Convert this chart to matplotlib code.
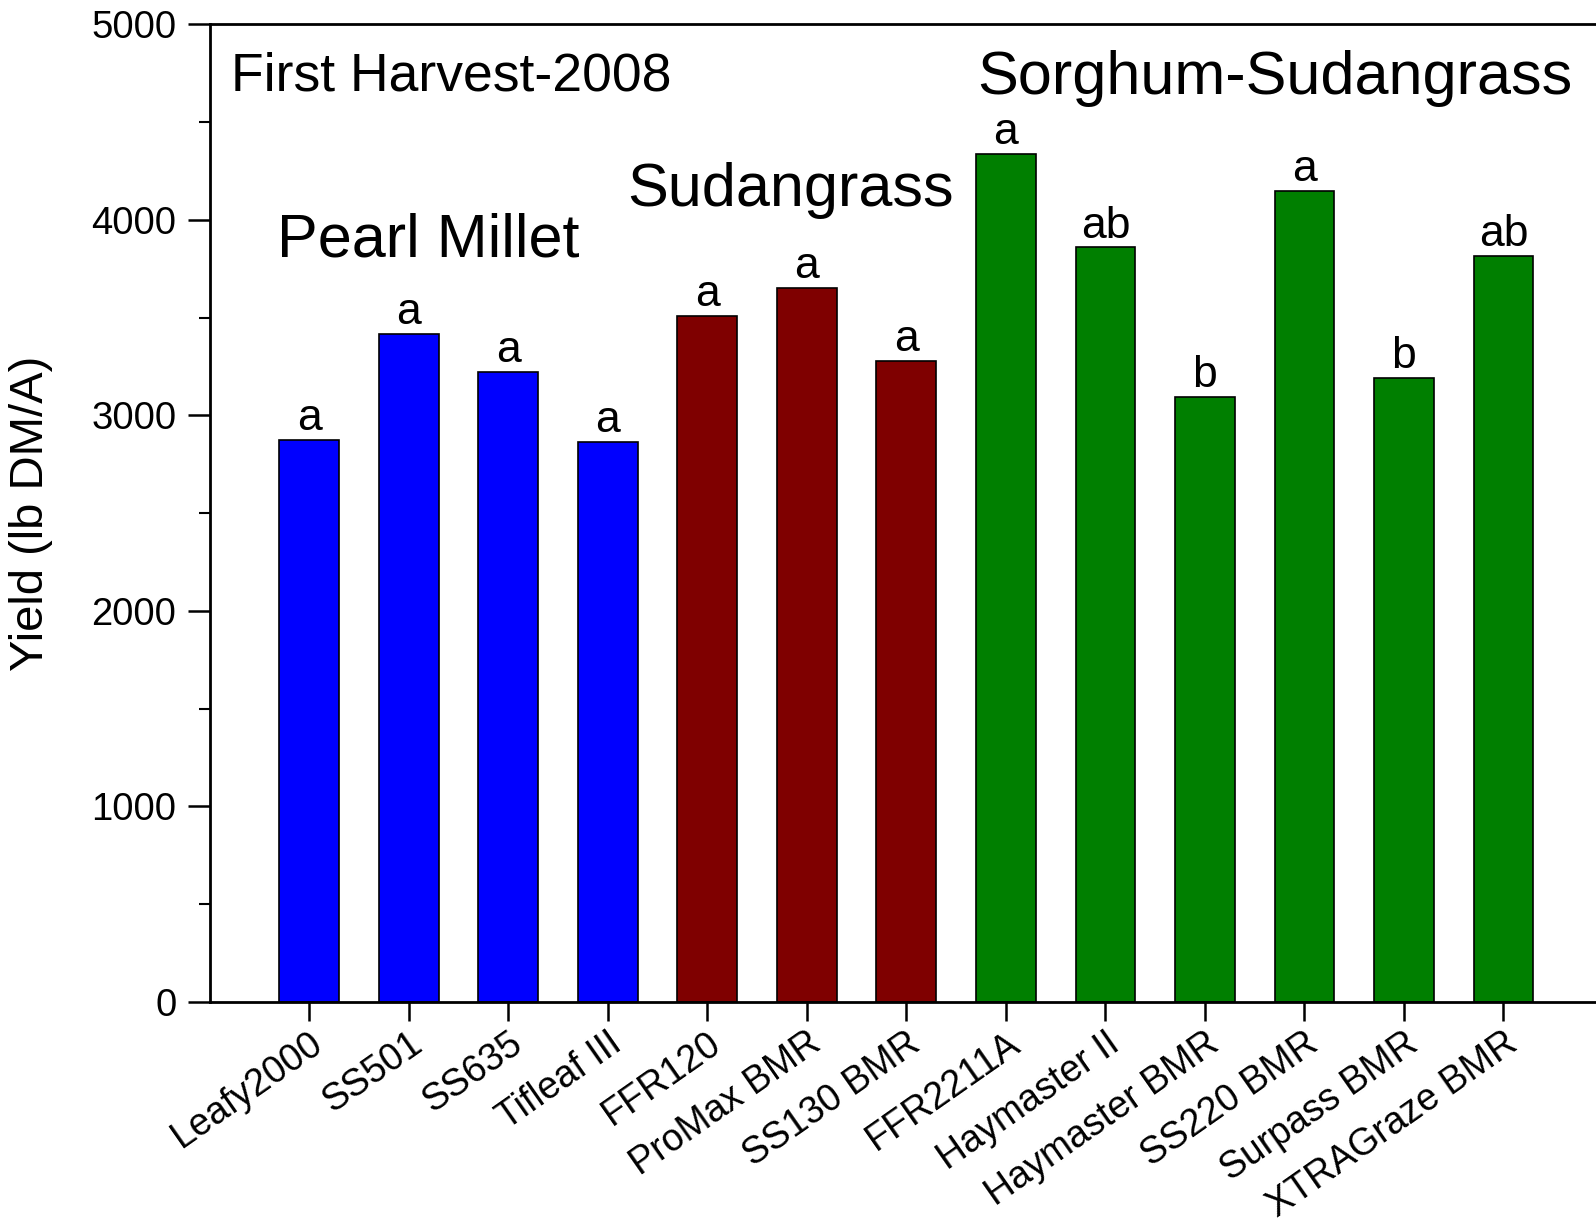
import matplotlib
matplotlib.use('Agg')
import matplotlib.pyplot as plt
import numpy as np
from matplotlib.ticker import MultipleLocator

plt.rcParams['font.family'] = ['Liberation Sans', 'DejaVu Sans']

cultivars = ['Leafy2000', 'SS501', 'SS635', 'Tifleaf III', 'FFR120', 'ProMax BMR',
             'SS130 BMR', 'FFR2211A', 'Haymaster II', 'Haymaster BMR', 'SS220 BMR',
             'Surpass BMR', 'XTRAGraze BMR']
yields = [2875, 3417, 3224, 2865, 3510, 3651, 3276, 4339, 3859, 3094, 4146, 3193, 3813]
letters = ['a', 'a', 'a', 'a', 'a', 'a', 'a', 'a', 'ab', 'b', 'a', 'b', 'ab']
groups = ['pm'] * 4 + ['sg'] * 3 + ['ss'] * 6
group_colors = {'pm': '#0000ff', 'sg': '#7f0000', 'ss': '#007f00'}

fig = plt.figure(figsize=(15.96, 12.24), dpi=100)
ax = fig.add_axes([0.1314, 0.1816, 0.8686, 0.7984])

x = np.arange(1, len(cultivars) + 1)
ax.bar(x, yields, width=0.6, color=[group_colors[g] for g in groups],
       edgecolor='black', linewidth=1.2, zorder=2)

# significance letters above each bar
for xi, yi, lt in zip(x, yields, letters):
    ax.text(xi, yi + 5, lt, ha='center', va='bottom', fontsize=32)

ax.text(0.21, 4735, 'First Harvest-2008', fontsize=38.5, va='center', ha='left')
ax.text(0.675, 3890, 'Pearl Millet', fontsize=44, va='center', ha='left')
ax.text(4.2, 4150, 'Sudangrass', fontsize=44, va='center', ha='left')
ax.text(7.71, 4725, 'Sorghum-Sudangrass', fontsize=44, va='center', ha='left')

ax.set_xlim(0, 13.93)
ax.set_ylim(0, 5000)
ax.set_xticks(x)
ax.set_xticklabels(cultivars, rotation=35, ha='right', rotation_mode='anchor',
                   fontsize=27)
ax.yaxis.set_major_locator(MultipleLocator(1000))
ax.yaxis.set_minor_locator(MultipleLocator(500))
ax.tick_params(axis='y', which='major', labelsize=27.5, length=16, width=1.8,
               direction='out', pad=8)
ax.tick_params(axis='y', which='minor', length=8, width=1.5, direction='out')
ax.tick_params(axis='x', which='major', length=14, width=1.8, direction='out', pad=3)
ax.set_ylabel('Yield (lb DM/A)', fontsize=34, va='center')
ax.yaxis.set_label_coords(-0.129, 0.5)

ax.spines['right'].set_visible(False)
for s in ['left', 'top', 'bottom']:
    ax.spines[s].set_linewidth(2)

fig.savefig('out.png', dpi=100)
